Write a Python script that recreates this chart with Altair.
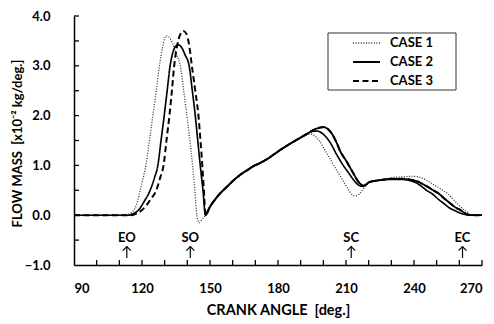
import altair as alt
import pandas as pd

cases = ["CASE 1", "CASE 2", "CASE 3"]

# (crank angle [deg], flow mass [x10^-2 kg/deg])
case1_first = [(90, 0), (112, 0), (114, 0.02), (116, 0.08), (117.5, 0.2), (119.2, 0.5), (120.5, 0.75),
               (121.7, 1.0), (123.3, 1.5), (124.8, 2.0), (126.3, 2.5), (127.7, 3.0), (129, 3.35),
               (130, 3.55), (130.8, 3.6), (131.8, 3.58), (133.5, 3.45), (135, 3.25), (136.9, 3.0),
               (138.4, 2.5), (139.8, 2.0), (141.1, 1.5), (142.3, 1.0), (143.3, 0.5), (144.2, 0.0),
               (145.3, -0.15), (146.5, -0.08), (148, 0)]
case2_first = [(90, 0), (114, 0), (116, 0.03), (118.4, 0.1), (121, 0.28), (123.6, 0.5), (125.5, 0.75),
               (127, 1.0), (128.4, 1.5), (129.8, 2.0), (131.1, 2.5), (132.4, 3.0), (133.7, 3.28),
               (135, 3.4), (136.1, 3.42), (137.3, 3.38), (139, 3.22), (140.8, 3.0), (142.2, 2.5),
               (143.5, 2.0), (144.6, 1.5), (145.7, 1.0), (146.9, 0.5), (148, 0)]
case3_first = [(90, 0), (115, 0), (117.5, 0.03), (119.9, 0.1), (122, 0.2), (124, 0.33), (126.3, 0.5),
               (128, 0.75), (129.5, 1.0), (130.8, 1.5), (132.1, 2.0), (133.2, 2.5), (134.2, 3.0),
               (135.4, 3.38), (136.8, 3.62), (138.3, 3.7), (139.6, 3.64), (140.8, 3.42), (142, 3.0),
               (143.5, 2.5), (144.9, 2.0), (145.8, 1.5), (146.6, 1.0), (147.3, 0.5), (148, 0)]
common_rise = [(150, 0.17), (152, 0.3), (154.5, 0.44), (157, 0.55), (160.4, 0.7), (163, 0.8),
               (166.3, 0.9), (169, 0.98), (172.2, 1.05), (176, 1.15), (180, 1.28), (185.5, 1.44)]
case1_second = [(190, 1.55), (192.5, 1.61), (194.3, 1.63), (196.5, 1.58), (198.5, 1.48), (200.2, 1.34),
                (202.5, 1.17), (204.6, 1.0), (207, 0.82), (209, 0.67), (211, 0.52), (212.8, 0.41),
                (214.2, 0.39), (215.7, 0.42), (217.2, 0.5), (218.7, 0.6), (220.1, 0.67), (223, 0.7),
                (226, 0.72), (230, 0.75), (235, 0.77), (239, 0.78), (242, 0.77), (244, 0.74),
                (246, 0.69), (248, 0.63), (250.3, 0.57), (253, 0.49), (255, 0.43), (257, 0.33),
                (259.2, 0.23), (261.5, 0.13), (263.6, 0.06), (265, 0), (270, 0)]
case2_second = [(190, 1.56), (193, 1.64), (195, 1.68), (197.3, 1.69), (199, 1.66), (201, 1.58),
                (203, 1.46), (206.1, 1.2), (208.5, 1.02), (211.3, 0.84), (213.5, 0.7), (215.7, 0.6),
                (217.2, 0.58), (218.7, 0.61), (220.1, 0.66), (223, 0.69), (226, 0.71), (230, 0.72),
                (234, 0.72), (238.5, 0.69), (241, 0.65), (243, 0.59), (245.5, 0.5), (248, 0.43),
                (250.5, 0.33), (253.3, 0.23), (255.5, 0.15), (257.7, 0.1), (260, 0.05), (262, 0.02),
                (265, 0), (270, 0)]
case3_second = [(190, 1.56), (193, 1.64), (196, 1.72), (198.5, 1.76), (200.2, 1.77), (202, 1.73),
                (204, 1.62), (206, 1.44), (207.6, 1.27), (210, 1.1), (212, 0.94), (213.5, 0.82),
                (215, 0.7), (216.5, 0.62), (217.9, 0.59), (219, 0.62), (220.1, 0.66), (223, 0.69),
                (226, 0.71), (230, 0.73), (235, 0.73), (240, 0.7), (242, 0.67), (244, 0.62),
                (246, 0.57), (248.5, 0.5), (251, 0.43), (253.5, 0.33), (256.2, 0.23), (258.5, 0.15),
                (260.6, 0.1), (263.3, 0.02), (265, 0), (270, 0)]

events = ["EO", "SO", "SC", "EC"]
event_deg = [113.3, 141.3, 212.3, 261.4]

x_labels = [90, 120, 150, 180, 210, 240, 270]
y_labels = [-1, 0, 1, 2, 3, 4]
x_minor = list(range(100, 271, 10))
y_minor = [-0.5, 0, 0.5, 1, 1.5, 2, 2.5, 3, 3.5, 4]

FONT = "Lato"
NB = "\u00a0"

case_colors = ["#333333", "#000000", "#000000"]
case_dash = [[1, 1.6], [1, 0], [6, 3.5]]
case_width = [1.3, 2.0, 1.8]

rows = []
for name, first, second in [("CASE 1", case1_first, case1_second),
                            ("CASE 2", case2_first, case2_second),
                            ("CASE 3", case3_first, case3_second)]:
    for i, (d, v) in enumerate(first + common_rise + second):
        rows.append({"case": name, "deg": d, "val": v, "order": i})
df = pd.DataFrame(rows)
df3_tail = df[(df["case"] == "CASE 3") & (df["deg"] >= 148)]

x_enc = alt.X("deg:Q", scale=alt.Scale(domain=[90, 270], nice=False, zero=False),
              axis=alt.Axis(values=x_labels, title="CRANK ANGLE" + NB + NB + "[deg.]", ticks=False, grid=False,
                            labelPadding=17, titlePadding=8, labelFont=FONT, titleFont=FONT,
                            labelFontSize=13, titleFontSize=14.5, labelFontWeight="bold",
                            titleFontWeight="bold", labelColor="black", titleColor="black",
                            domainColor="black", domainWidth=1.5))
y_enc = alt.Y("val:Q", scale=alt.Scale(domain=[-1, 4], nice=False, zero=False),
              axis=alt.Axis(values=y_labels, format=".1f",
                            title="FLOW MASS" + NB + NB + "[x10⁻² kg/deg.]",
                            ticks=False, grid=False, labelPadding=24,
                            titleX=-57, titleY=127, titleAngle=270, titleAlign="center",
                            titleBaseline="middle",
                            labelFont=FONT, titleFont=FONT, labelFontSize=13, titleFontSize=13,
                            labelFontWeight="bold", titleFontWeight="bold", labelColor="black",
                            titleColor="black", domainColor="black", domainWidth=1.5))

lines = alt.Chart(df).mark_line(interpolate="monotone").encode(
    x=x_enc, y=y_enc, order="order:Q",
    color=alt.Color("case:N", scale=alt.Scale(domain=cases, range=case_colors), legend=None),
    strokeDash=alt.StrokeDash("case:N", scale=alt.Scale(domain=cases, range=case_dash), legend=None),
    strokeWidth=alt.StrokeWidth("case:N", scale=alt.Scale(domain=cases, range=case_width), legend=None),
)
tail3 = alt.Chart(df3_tail).mark_line(interpolate="monotone", color="black", strokeWidth=1.8).encode(
    x=x_enc, y=y_enc, order="order:Q")

# legend (drawn by hand, as in the reference box)
one = pd.DataFrame({"a": [0]})
legend_layers = [alt.Chart(one).mark_rect(fill="white", stroke="#333333", strokeWidth=1).encode(
    x=alt.value(254), x2=alt.value(382), y=alt.value(17), y2=alt.value(74))]
for k, name in enumerate(cases):
    yy = 27 + 19 * k
    legend_layers.append(alt.Chart(one).mark_rule(
        color=case_colors[k], strokeDash=case_dash[k], strokeWidth=case_width[k]).encode(
        x=alt.value(279), x2=alt.value(306), y=alt.value(yy)))
    legend_layers.append(alt.Chart(one).mark_text(
        text=name, font=FONT, fontSize=13, fontWeight="bold", color="black", align="left",
        baseline="middle").encode(x=alt.value(316), y=alt.value(yy)))

XT = 180 / 408 * 5  # 5 px in degrees
YT = 5 / 249 * 5    # 5 px in value units
xt = pd.DataFrame({"deg": x_minor, "val": [-1] * len(x_minor), "val2": [-1 + YT] * len(x_minor)})
yt = pd.DataFrame({"val": y_minor, "deg": [90] * len(y_minor), "deg2": [90 + XT] * len(y_minor)})
xticks = alt.Chart(xt).mark_rule(color="black", strokeWidth=1.3).encode(x=x_enc, y=y_enc, y2="val2:Q")
yticks = alt.Chart(yt).mark_rule(color="black", strokeWidth=1.3).encode(x=x_enc, x2="deg2:Q", y=y_enc)

ev = pd.DataFrame({"name": events, "deg": event_deg, "val": [-0.46] * 4,
                   "top": [-0.63] * 4, "bot": [-0.86] * 4})
ev_text = alt.Chart(ev).mark_text(font=FONT, fontSize=13, fontWeight="bold", color="black").encode(
    x=x_enc, y=y_enc, text="name:N")
ev_shaft = alt.Chart(ev).mark_rule(color="black", strokeWidth=1.2).encode(
    x=x_enc, y=alt.Y("top:Q", scale=alt.Scale(domain=[-1, 4], nice=False, zero=False)), y2="bot:Q")
ev_head = alt.Chart(ev).mark_point(shape="M-1,1L0,0L1,1", size=64, filled=False, color="black",
                                   strokeWidth=1.2, opacity=1).encode(
    x=x_enc, y=alt.Y("top:Q", scale=alt.Scale(domain=[-1, 4], nice=False, zero=False)))

chart = alt.layer(*legend_layers, xticks, yticks, lines, tail3, ev_text, ev_shaft, ev_head).properties(
    width=408, height=249, autosize=alt.AutoSizeParams(type="none"),
    padding={"left": 66, "top": 8, "right": 4, "bottom": 58},
).configure_view(stroke=None)

chart.save("out.html", embed_options={"renderer": "svg", "actions": False})
